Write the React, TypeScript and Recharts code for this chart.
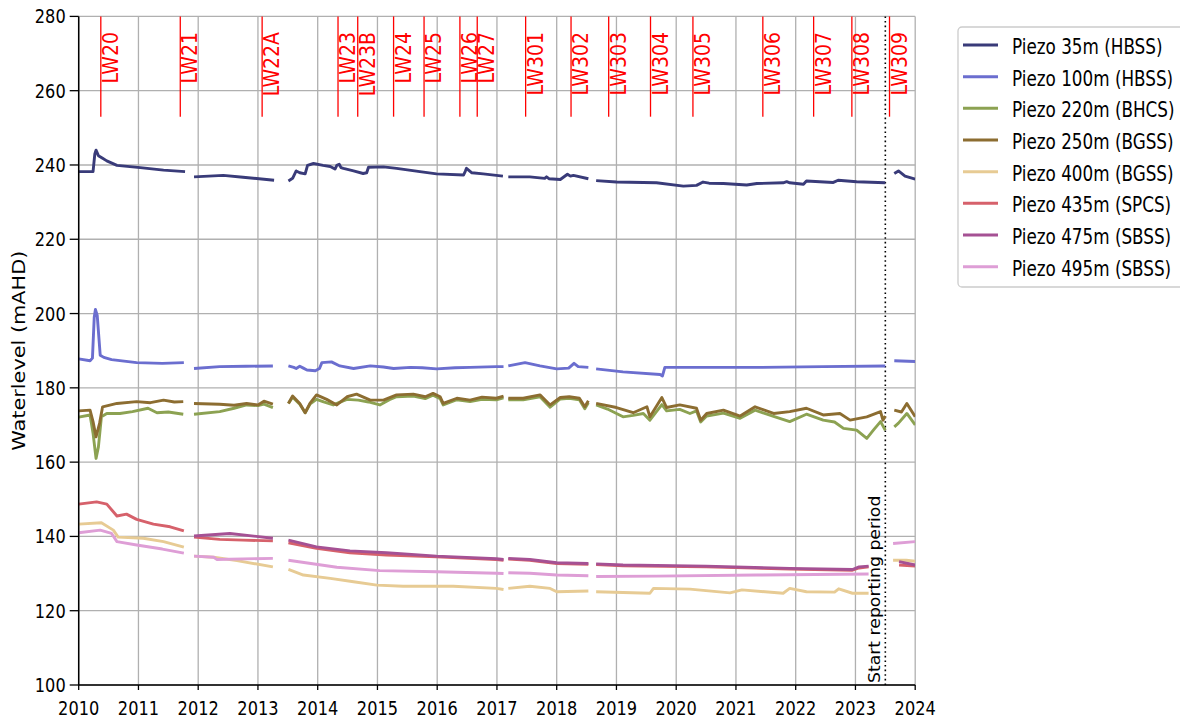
import React from 'react';
import { LineChart, Line, XAxis, YAxis, CartesianGrid, ReferenceLine } from 'recharts';

type Pt = [number, number | null];

// ---------- data ----------
const years = [2010, 2011, 2012, 2013, 2014, 2015, 2016, 2017, 2018, 2019, 2020, 2021, 2022, 2023, 2024];
const levelTicks = [100, 120, 140, 160, 180, 200, 220, 240, 260, 280];

const lwNames = ['LW20', 'LW21', 'LW22A', 'LW23', 'LW23B', 'LW24', 'LW25', 'LW26', 'LW27', 'LW301', 'LW302', 'LW303', 'LW304', 'LW305', 'LW306', 'LW307', 'LW308', 'LW309'];
const lwDates = [2010.37, 2011.7, 2013.07, 2014.34, 2014.67, 2015.27, 2015.78, 2016.38, 2016.67, 2017.48, 2018.24, 2018.87, 2019.57, 2020.28, 2021.45, 2022.3, 2022.94, 2023.57];
const lwRange = [253, 280];
const reportingStart = 2023.5;

const seriesNames = ['Piezo 35m (HBSS)', 'Piezo 100m (HBSS)', 'Piezo 220m (BHCS)', 'Piezo 250m (BGSS)', 'Piezo 400m (BGSS)', 'Piezo 435m (SPCS)', 'Piezo 475m (SBSS)', 'Piezo 495m (SBSS)'];
const seriesColors = ['#393b79', '#6b6ecf', '#8ca252', '#8c6d31', '#e7cb94', '#d6616b', '#a55194', '#de9ed6'];

const p35: Pt[] = [
  [2010.0, 238.2], [2010.24, 238.2], [2010.27, 243.0], [2010.29, 244.0], [2010.33, 242.5], [2010.4, 241.8], [2010.47, 241.1], [2010.64, 239.9], [2011.03, 239.3], [2011.42, 238.6], [2011.78, 238.2], [2011.86, null],
  [2011.93, 236.8], [2012.42, 237.2], [2012.75, 236.7], [2013.27, 235.9], [2013.4, null],
  [2013.51, 235.7], [2013.58, 236.4], [2013.64, 238.4], [2013.7, 237.9], [2013.79, 237.6], [2013.83, 239.9], [2013.93, 240.4], [2014.09, 239.9], [2014.21, 239.6], [2014.29, 238.9], [2014.32, 239.9], [2014.36, 240.2], [2014.39, 239.3], [2014.43, 239.1], [2014.6, 238.4], [2014.76, 237.7], [2014.82, 237.9], [2014.85, 239.4], [2015.1, 239.5], [2015.32, 239.1], [2015.71, 238.2], [2015.99, 237.6], [2016.44, 237.3], [2016.47, 238.3], [2016.49, 239.1], [2016.58, 237.9], [2016.77, 237.6], [2017.1, 237.0], [2017.15, null],
  [2017.19, 236.8], [2017.55, 236.8], [2017.8, 236.4], [2017.83, 236.8], [2017.87, 236.3], [2018.06, 236.1], [2018.18, 237.5], [2018.23, 237.0], [2018.28, 237.2], [2018.53, 236.3], [2018.6, null],
  [2018.66, 235.8], [2019.0, 235.4], [2019.67, 235.2], [2020.12, 234.3], [2020.34, 234.5], [2020.45, 235.4], [2020.55, 235.1], [2020.79, 235.0], [2021.18, 234.6], [2021.35, 235.0], [2021.79, 235.2], [2021.85, 235.5], [2021.9, 235.2], [2022.13, 234.8], [2022.18, 235.7], [2022.63, 235.3], [2022.71, 235.9], [2023.02, 235.5], [2023.5, 235.2], [2023.57, null],
  [2023.65, 237.7], [2023.72, 238.4], [2023.83, 237.0], [2024.0, 236.2],
];

const p100: Pt[] = [
  [2010.0, 187.8], [2010.19, 187.3], [2010.23, 188.0], [2010.26, 199.0], [2010.28, 201.1], [2010.31, 199.5], [2010.36, 188.8], [2010.42, 188.2], [2010.55, 187.6], [2010.97, 186.8], [2011.4, 186.6], [2011.76, 186.8], [2011.85, null],
  [2011.93, 185.2], [2012.36, 185.7], [2012.8, 185.8], [2013.25, 185.9], [2013.4, null],
  [2013.51, 185.9], [2013.6, 185.5], [2013.64, 185.2], [2013.7, 185.8], [2013.76, 185.3], [2013.82, 184.8], [2013.96, 184.6], [2014.03, 185.2], [2014.07, 186.8], [2014.23, 187.0], [2014.37, 185.9], [2014.6, 185.2], [2014.88, 185.9], [2015.1, 185.6], [2015.27, 185.2], [2015.55, 185.5], [2015.75, 185.4], [2015.99, 185.1], [2016.3, 185.4], [2016.55, 185.5], [2016.99, 185.7], [2017.11, 185.7], [2017.15, null],
  [2017.19, 185.9], [2017.47, 186.8], [2017.72, 185.9], [2018.0, 185.1], [2018.2, 185.3], [2018.29, 186.6], [2018.36, 185.7], [2018.53, 185.5], [2018.6, null],
  [2018.66, 185.1], [2019.11, 184.3], [2019.73, 183.6], [2019.77, 183.2], [2019.81, 185.5], [2020.23, 185.5], [2021.35, 185.5], [2022.46, 185.7], [2023.5, 185.9], [2023.57, null],
  [2023.65, 187.3], [2024.0, 187.1],
];

const p220: Pt[] = [
  [2010.0, 172.1], [2010.19, 172.7], [2010.24, 167.8], [2010.29, 161.0], [2010.33, 164.1], [2010.38, 172.2], [2010.47, 173.1], [2010.69, 173.1], [2010.9, 173.6], [2011.16, 174.5], [2011.31, 173.3], [2011.5, 173.5], [2011.75, 172.9], [2011.85, null],
  [2011.93, 172.9], [2012.36, 173.6], [2012.6, 174.5], [2012.81, 175.4], [2013.0, 175.2], [2013.1, 175.6], [2013.25, 174.7], [2013.4, null],
  [2013.51, 175.8], [2013.58, 177.5], [2013.7, 175.6], [2013.79, 173.3], [2013.87, 175.6], [2013.98, 176.9], [2014.1, 176.2], [2014.26, 175.4], [2014.49, 176.9], [2014.68, 176.7], [2014.85, 176.2], [2015.04, 175.4], [2015.2, 176.8], [2015.32, 177.6], [2015.6, 177.8], [2015.8, 177.1], [2015.93, 178.0], [2016.05, 177.1], [2016.1, 175.4], [2016.33, 176.8], [2016.55, 176.3], [2016.75, 176.9], [2016.99, 176.8], [2017.11, 177.3], [2017.15, null],
  [2017.19, 176.8], [2017.44, 176.8], [2017.72, 177.6], [2017.89, 174.8], [2018.06, 177.0], [2018.21, 177.2], [2018.38, 176.8], [2018.47, 174.4], [2018.53, 176.0], [2018.6, null],
  [2018.66, 175.4], [2018.85, 174.3], [2019.11, 172.2], [2019.28, 172.6], [2019.45, 173.1], [2019.56, 171.3], [2019.76, 175.5], [2019.84, 173.8], [2020.06, 174.2], [2020.23, 173.1], [2020.34, 173.8], [2020.41, 170.8], [2020.51, 172.4], [2020.79, 173.2], [2021.07, 171.8], [2021.32, 174.0], [2021.63, 172.3], [2021.9, 170.9], [2022.18, 172.9], [2022.46, 171.3], [2022.65, 170.8], [2022.8, 169.1], [2023.02, 168.6], [2023.19, 166.4], [2023.3, 168.6], [2023.42, 170.9], [2023.5, 168.6], [2023.57, null],
  [2023.65, 169.5], [2023.72, 170.5], [2023.86, 173.1], [2024.0, 170.0],
];

const p250: Pt[] = [
  [2010.0, 173.8], [2010.19, 174.0], [2010.24, 170.9], [2010.29, 166.8], [2010.35, 170.5], [2010.4, 174.9], [2010.64, 175.8], [2010.97, 176.3], [2011.2, 176.0], [2011.42, 176.7], [2011.6, 176.2], [2011.75, 176.3], [2011.85, null],
  [2011.93, 175.8], [2012.36, 175.6], [2012.6, 175.3], [2012.81, 175.8], [2013.0, 175.4], [2013.1, 176.4], [2013.25, 175.6], [2013.4, null],
  [2013.51, 175.8], [2013.58, 177.8], [2013.7, 175.8], [2013.79, 173.3], [2013.87, 175.8], [2013.98, 178.1], [2014.15, 176.9], [2014.32, 175.4], [2014.49, 177.6], [2014.65, 178.3], [2014.88, 176.7], [2015.1, 176.7], [2015.32, 178.1], [2015.6, 178.3], [2015.8, 177.6], [2015.93, 178.5], [2016.05, 177.6], [2016.1, 175.8], [2016.33, 177.2], [2016.55, 176.7], [2016.75, 177.5], [2016.99, 177.2], [2017.11, 177.8], [2017.15, null],
  [2017.19, 177.2], [2017.44, 177.2], [2017.72, 178.1], [2017.89, 175.4], [2018.06, 177.4], [2018.21, 177.6], [2018.38, 177.2], [2018.47, 174.9], [2018.53, 176.5], [2018.6, null],
  [2018.66, 175.8], [2019.0, 174.7], [2019.28, 173.3], [2019.51, 174.9], [2019.56, 172.2], [2019.76, 177.4], [2019.84, 174.7], [2020.06, 175.4], [2020.34, 174.5], [2020.41, 171.3], [2020.51, 173.1], [2020.79, 174.0], [2021.07, 172.4], [2021.32, 174.9], [2021.63, 173.1], [2021.9, 173.6], [2022.18, 174.5], [2022.46, 172.7], [2022.74, 173.1], [2022.91, 171.3], [2023.19, 172.2], [2023.42, 173.6], [2023.46, 171.3], [2023.5, 172.4], [2023.57, null],
  [2023.65, 174.0], [2023.77, 173.5], [2023.86, 175.8], [2024.0, 172.2],
];

const p400: Pt[] = [
  [2010.0, 143.3], [2010.38, 143.7], [2010.58, 141.7], [2010.66, 139.8], [2011.08, 139.5], [2011.42, 138.6], [2011.76, 137.1], [2011.85, null],
  [2011.93, 134.7], [2012.26, 134.4], [2012.65, 133.5], [2013.25, 131.8], [2013.4, null],
  [2013.51, 131.1], [2013.76, 129.6], [2014.21, 128.7], [2014.6, 127.8], [2014.99, 126.9], [2015.43, 126.6], [2016.27, 126.6], [2016.99, 126.0], [2017.11, 125.7], [2017.15, null],
  [2017.19, 126.0], [2017.55, 126.6], [2017.89, 126.0], [2018.0, 125.1], [2018.53, 125.3], [2018.6, null],
  [2018.66, 125.1], [2019.56, 124.7], [2019.62, 126.0], [2020.23, 125.8], [2020.9, 124.8], [2021.1, 125.6], [2021.79, 124.7], [2021.9, 126.0], [2022.18, 125.1], [2022.65, 125.0], [2022.72, 125.9], [2022.95, 124.7], [2023.22, 124.7], [2023.3, null],
  [2023.63, 133.6], [2023.85, 133.6], [2024.0, 133.3],
];

const p435: Pt[] = [
  [2010.0, 148.7], [2010.3, 149.3], [2010.47, 148.7], [2010.64, 145.5], [2010.8, 146.0], [2010.97, 144.6], [2011.25, 143.3], [2011.53, 142.6], [2011.76, 141.5], [2011.85, null],
  [2011.93, 139.8], [2012.36, 139.2], [2012.75, 139.0], [2013.25, 138.8], [2013.4, null],
  [2013.51, 138.3], [2013.98, 136.8], [2014.54, 135.6], [2015.15, 135.0], [2015.99, 134.5], [2016.99, 133.8], [2017.11, 133.6], [2017.15, null],
  [2017.19, 133.9], [2017.55, 133.6], [2018.0, 132.7], [2018.53, 132.5], [2018.6, null],
  [2018.66, 132.4], [2019.11, 132.1], [2020.5, 131.8], [2021.9, 131.2], [2022.95, 130.9], [2023.06, 131.5], [2023.22, 131.8], [2023.3, null],
  [2023.73, 132.3], [2024.0, 132.0],
];

const p475: Pt[] = [
  [2011.93, 140.1], [2012.53, 140.8], [2013.25, 139.5], [2013.4, null],
  [2013.51, 139.0], [2013.98, 137.2], [2014.54, 136.1], [2015.15, 135.6], [2015.99, 134.7], [2016.99, 134.0], [2017.11, 133.8], [2017.15, null],
  [2017.19, 134.1], [2017.55, 133.8], [2018.0, 132.9], [2018.53, 132.7], [2018.6, null],
  [2018.66, 132.6], [2019.11, 132.3], [2020.5, 132.0], [2021.9, 131.4], [2022.95, 131.1], [2023.06, 131.8], [2023.22, 132.0], [2023.3, null],
  [2023.73, 133.2], [2024.0, 132.3],
];

const p495: Pt[] = [
  [2010.0, 141.0], [2010.36, 141.7], [2010.55, 140.8], [2010.64, 138.6], [2010.97, 137.7], [2011.4, 136.6], [2011.76, 135.5], [2011.85, null],
  [2011.93, 134.7], [2012.26, 134.4], [2012.31, 133.8], [2013.25, 134.1], [2013.4, null],
  [2013.51, 133.6], [2014.32, 131.7], [2015.04, 130.8], [2015.99, 130.5], [2016.99, 130.1], [2017.11, 130.0], [2017.15, null],
  [2017.19, 130.2], [2017.55, 130.1], [2018.0, 129.6], [2018.53, 129.4], [2018.6, null],
  [2018.66, 129.2], [2019.67, 129.3], [2021.35, 129.6], [2023.22, 129.9], [2023.3, null],
  [2023.63, 138.1], [2024.0, 138.6],
];

const seriesPoints = [p35, p100, p220, p250, p400, p435, p475, p495];

// ---------- rendering helpers ----------
const FONT = "'DejaVu Sans', 'Liberation Sans', sans-serif";

function SText(props: { x: number; y: number; rot?: number; sx?: number; size: number; anchor?: string; fill?: string; children: React.ReactNode }) {
  const { x, y, rot = 0, sx = 1, size, anchor = 'start', fill = '#000', children } = props;
  return (
    <text
      transform={`translate(${x},${y}) rotate(${rot}) scale(${sx},1)`}
      fontSize={size}
      fontFamily={FONT}
      textAnchor={anchor as any}
      fill={fill}
    >
      {children}
    </text>
  );
}

const XTick = (p: any) => (
  <SText x={p.x} y={715} size={19.5} sx={0.83} anchor="middle">{p.payload.value}</SText>
);
const YTick = (p: any) => (
  <SText x={65.7} y={p.y + 7} size={19.5} sx={0.83} anchor="end">{p.payload.value}</SText>
);

const toRows = (pts: Pt[]) => pts.map(([t, v]) => ({ t, v }));

const PLOT_LEFT = 78.7;
const PLOT_TOP = 16.4;
const PLOT_RIGHT = 915.2;
const PLOT_BOTTOM = 685;

export default function App() {
  const legendTop = 27;
  const rowPitch = 31.67;
  return (
    <div style={{ position: 'absolute', left: 0, top: 0, width: 1180, height: 720, overflow: 'hidden', background: '#fff' }}>
      <LineChart
        width={1180}
        height={720}
        margin={{ top: PLOT_TOP, right: 1180 - PLOT_RIGHT, bottom: 0, left: 0 }}
      >
        <CartesianGrid stroke="#b0b0b0" strokeWidth={1.3} />
        <XAxis
          type="number"
          dataKey="t"
          domain={[2010, 2024]}
          ticks={years}
          interval={0}
          allowDataOverflow
          height={720 - PLOT_BOTTOM}
          tickSize={5}
          tickMargin={0}
          tickLine={{ stroke: '#000', strokeWidth: 1.3 }}
          axisLine={{ stroke: '#000', strokeWidth: 1.5 }}
          tick={XTick}
        />
        <XAxis
          xAxisId="top"
          orientation="top"
          type="number"
          dataKey="t"
          domain={[2010, 2024]}
          height={0}
          tick={false}
          tickLine={false}
          axisLine={{ stroke: '#000', strokeWidth: 1.5 }}
        />
        <YAxis
          type="number"
          domain={[100, 280]}
          ticks={levelTicks}
          interval={0}
          allowDataOverflow
          width={PLOT_LEFT}
          tickSize={9}
          tickMargin={4}
          tickLine={{ stroke: '#000', strokeWidth: 1.3 }}
          axisLine={{ stroke: '#000', strokeWidth: 1.5 }}
          tick={YTick}
        />
        <YAxis
          yAxisId="right"
          orientation="right"
          type="number"
          domain={[100, 280]}
          width={0}
          tick={false}
          tickLine={false}
          axisLine={{ stroke: '#000', strokeWidth: 1.5 }}
        />

        {lwNames.map((name, i) => (
          <ReferenceLine
            key={name}
            segment={[{ x: lwDates[i], y: lwRange[0] }, { x: lwDates[i], y: lwRange[1] }]}
            stroke="#ff0000"
            strokeWidth={1.3}
            shape={(p: any) => (
              <g>
                <line x1={p.x1} y1={p.y1} x2={p.x2} y2={p.y2} stroke="#ff0000" strokeWidth={1.3} />
                <SText x={p.x1 + 17} y={32} rot={-90} sx={0.92} size={20.5} anchor="end" fill="#ff0000">{name}</SText>
              </g>
            )}
          />
        ))}

        <ReferenceLine
          x={reportingStart}
          stroke="#000"
          strokeWidth={1.6}
          strokeDasharray="1.6 3"
          shape={(p: any) => (
            <g>
              <line x1={p.x1} y1={p.y1} x2={p.x2} y2={p.y2} stroke="#000" strokeWidth={1.6} strokeDasharray="1.6 3" />
              <SText x={p.x1 - 5.5} y={683} rot={-90} sx={1.15} size={15} anchor="start">Start reporting period</SText>
            </g>
          )}
        />

        {seriesPoints.map((pts, i) => (
          <Line
            key={seriesNames[i]}
            name={seriesNames[i]}
            data={toRows(pts)}
            dataKey="v"
            type="linear"
            stroke={seriesColors[i]}
            strokeWidth={2.9}
            strokeLinejoin="round"
            dot={false}
            activeDot={false}
            connectNulls={false}
            isAnimationActive={false}
          />
        ))}
      </LineChart>

      <svg width={1180} height={720} style={{ position: 'absolute', left: 0, top: 0, pointerEvents: 'none' }}>
        <SText x={25} y={(PLOT_TOP + PLOT_BOTTOM) / 2} rot={-90} sx={1.19} size={17.5} anchor="middle">Waterlevel (mAHD)</SText>
        <rect x={958} y={legendTop} width={240} height={260} rx={4} ry={4} fill="#fff" fillOpacity={0.8} stroke="#cccccc" strokeWidth={1.3} />
        {seriesNames.map((name, i) => {
          const cy = 45 + i * rowPitch;
          return (
            <g key={name}>
              <line x1={963} y1={cy} x2={998} y2={cy} stroke={seriesColors[i]} strokeWidth={3} />
              <SText x={1012} y={cy + 9} size={21} sx={0.8}>{name}</SText>
            </g>
          );
        })}
      </svg>
    </div>
  );
}
